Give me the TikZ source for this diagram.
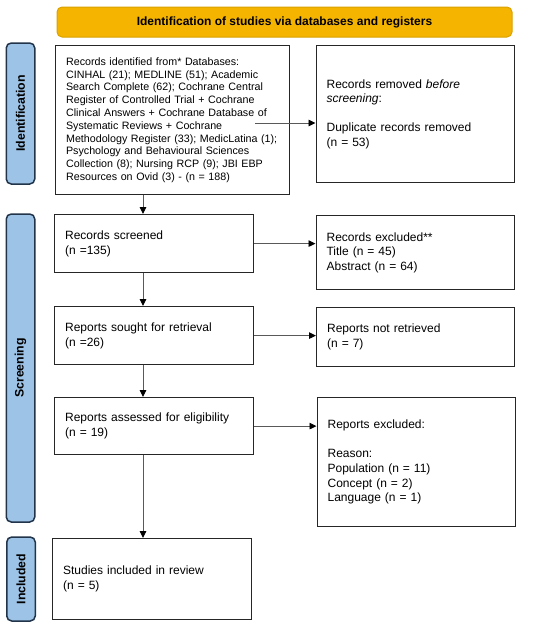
\documentclass[tikz,border=0pt]{standalone}
\usepackage{fontspec}
\setmainfont{Liberation Sans}
\usetikzlibrary{arrows.meta}
\definecolor{bannerfill}{HTML}{F4B400}
\definecolor{bannerline}{HTML}{D9A200}
\definecolor{sidefill}{HTML}{9DC3E6}
\definecolor{sideline}{HTML}{22344A}
\begin{document}
\begin{tikzpicture}[x=1pt,y=-1pt,
  box/.style={draw=black!85, line width=1.2pt, fill=white, anchor=north west,
    align=left, inner xsep=10.5pt, inner ysep=0pt,
    font=\fontsize{12}{14.6}\selectfont},
  sidelab/.style={draw=sideline, fill=sidefill, line width=1.5pt, rounded corners=5pt,
    rotate=90, minimum height=28.5pt, inner sep=0pt,
    font=\fontsize{12.3}{14}\selectfont\bfseries},
  banner/.style={draw=bannerline, fill=bannerfill, line width=1pt, rounded corners=5pt,
    minimum width=455pt, minimum height=30pt, inner sep=0pt,
    font=\fontsize{12}{14}\selectfont\bfseries},
  arr/.style={draw=black!65, line width=0.9pt, -{Triangle[length=7pt,width=6.5pt,black]}}
]
\useasboundingbox (0,0) rectangle (550,627);

% banner and side labels
\node[banner] (ban) at (284.5,22) {Identification of studies via databases and registers};
\node[sidelab, minimum width=141pt] (lid) at (20.5,113.5) {Identification};
\node[sidelab, minimum width=308pt] (lsc) at (20.5,368) {Screening};
\node[sidelab, minimum width=84pt] (lin) at (21,579) {Included};

% left column
\node[box, minimum width=234pt, minimum height=149pt, text width=213pt,
  font=\fontsize{10.7}{12.8}\selectfont] (id) at (55,45)
  {Records identified from* Databases:\\
   CINHAL (21); MEDLINE (51); Academic\\
   Search Complete (62); Cochrane Central\\
   Register of Controlled Trial + Cochrane\\
   Clinical Answers + Cochrane Database of\\
   Systematic Reviews + Cochrane\\
   Methodology Register (33); MedicLatina (1);\\
   Psychology and Behavioural Sciences\\
   Collection (8); Nursing RCP (9); JBI EBP\\
   Resources on Ovid (3) - (n = 188)\par\vspace*{10pt}};
\node[box, minimum width=199pt, minimum height=58pt, text width=178pt] (scr) at (54,214)
  {Records screened\\(n =135)};
\node[box, minimum width=199pt, minimum height=58pt, text width=178pt] (sou) at (54,306)
  {Reports sought for retrieval\\(n =26)};
\node[box, minimum width=199pt, minimum height=57pt, text width=178pt] (ass) at (54,397)
  {Reports assessed for eligibility\\(n = 19)};
\node[box, minimum width=199pt, minimum height=81pt, text width=178pt] (inc) at (52,538)
  {Studies included in review\\(n = 5)};

% right column
\node[box, minimum width=198pt, minimum height=137pt, text width=177pt] (rem) at (315.5,45)
  {Records removed \textit{before}\\\textit{screening}:\\[14.6pt]Duplicate records removed\\(n = 53)};
\node[box, minimum width=198pt, minimum height=74pt, text width=177pt] (exc) at (315.5,215)
  {Records excluded**\\Title (n = 45)\\Abstract (n = 64)};
\node[box, minimum width=198pt, minimum height=59pt, text width=177pt] (nre) at (316,307)
  {Reports not retrieved\\(n = 7)};
\node[box, minimum width=198pt, minimum height=129pt, text width=177pt] (rex) at (316.5,397)
  {Reports excluded:\\[14.6pt]Reason:\\Population (n = 11)\\Concept (n = 2)\\Language (n = 1)};

% connectors
\coordinate (vx) at (143,0);
\coordinate (a1) at (255,123);
\draw[arr] (a1) -- (a1 -| rem.west);
\draw[arr] (scr.east) -- (scr.east -| exc.west);
\draw[arr] (sou.east) -- (sou.east -| nre.west);
\draw[arr] (ass.east) -- (ass.east -| rex.west);
\draw[arr] (vx |- id.south) -- (vx |- scr.north);
\draw[arr] (vx |- scr.south) -- (vx |- sou.north);
\draw[arr] (vx |- sou.south) -- (vx |- ass.north);
\draw[arr] (vx |- ass.south) -- (vx |- inc.north);
\end{tikzpicture}
\end{document}
